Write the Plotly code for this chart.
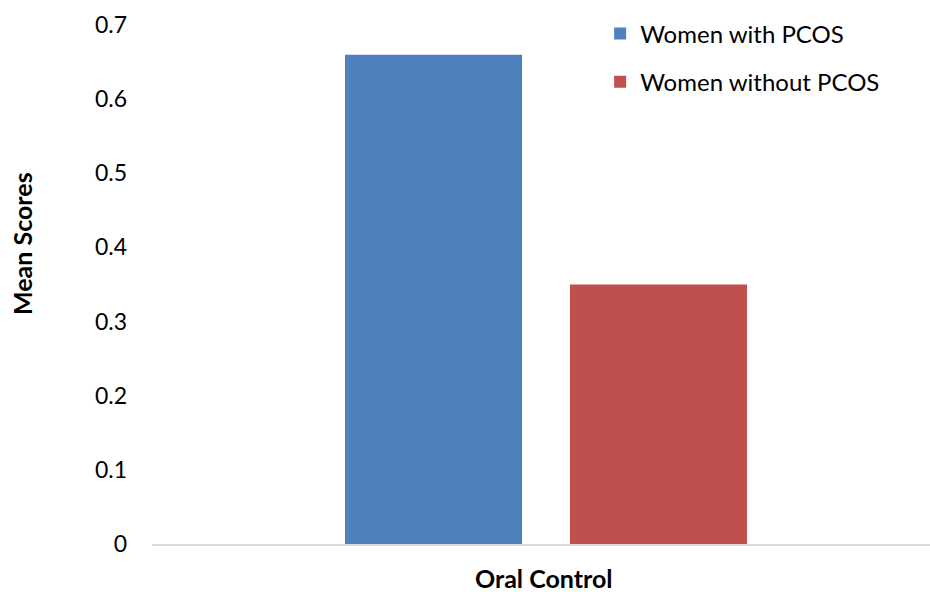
import plotly.graph_objects as go

# Mean scores for the oral-control item
categories = ["Oral Control"]
series_names = ["Women with PCOS", "Women without PCOS"]
with_pcos = [0.66]
without_pcos = [0.35]
series_colors = ["#4F81BD", "#C0504D"]
y_ticks = [0, 0.1, 0.2, 0.3, 0.4, 0.5, 0.6, 0.7]
y_tick_labels = ["0", "0.1", "0.2", "0.3", "0.4", "0.5", "0.6", "0.7"]

FONT = "Lato, 'Open Sans', sans-serif"

fig = go.Figure()
for name, vals, col in zip(series_names, [with_pcos, without_pcos], series_colors):
    fig.add_trace(go.Bar(
        x=categories, y=vals, name=name, marker=dict(color=col, line=dict(width=0)),
        legendgroup=name,
    ))

fig.update_layout(
    width=930, height=592,
    margin=dict(l=152, r=0, t=25, b=48),
    paper_bgcolor="white", plot_bgcolor="white",
    barmode="group", bargap=0.429, bargroupgap=0.213,
    font=dict(family=FONT, size=23, color="#000000"),
    showlegend=True,
    legend=dict(
        x=0.576, y=1.026, xanchor="left", yanchor="top",
        font=dict(family=FONT, size=24, color="#000000"),
        traceorder="grouped", tracegroupgap=14,
        itemwidth=30, bgcolor="rgba(0,0,0,0)",
    ),
    xaxis=dict(
        type="category", range=[-0.5, 0.4873],
        showticklabels=False, ticks="",
        showline=True, linecolor="#D9D9D9", linewidth=2,
        showgrid=False, zeroline=False,
    ),
    yaxis=dict(
        range=[0, 0.7], tickvals=y_ticks, ticktext=y_tick_labels,
        showgrid=False, zeroline=False, showline=False, ticks="",
        ticklabelstandoff=24,
        tickfont=dict(family=FONT, size=23, color="#000000"),
    ),
    annotations=[
        dict(text="<b>Mean Scores</b>", xref="paper", yref="paper",
             x=-152 / 778 + 22 / 778, y=(544 - 244) / 519, textangle=-90,
             showarrow=False, xanchor="center", yanchor="middle",
             font=dict(family=FONT, size=25, color="#000000")),
        dict(text="<b>Oral Control</b>", xref="paper", yref="paper",
             x=(544 - 152) / 778, y=-(578 - 544) / 519,
             showarrow=False, xanchor="center", yanchor="middle",
             font=dict(family=FONT, size=25, color="#000000")),
    ],
)

fig.write_html("out.html")
